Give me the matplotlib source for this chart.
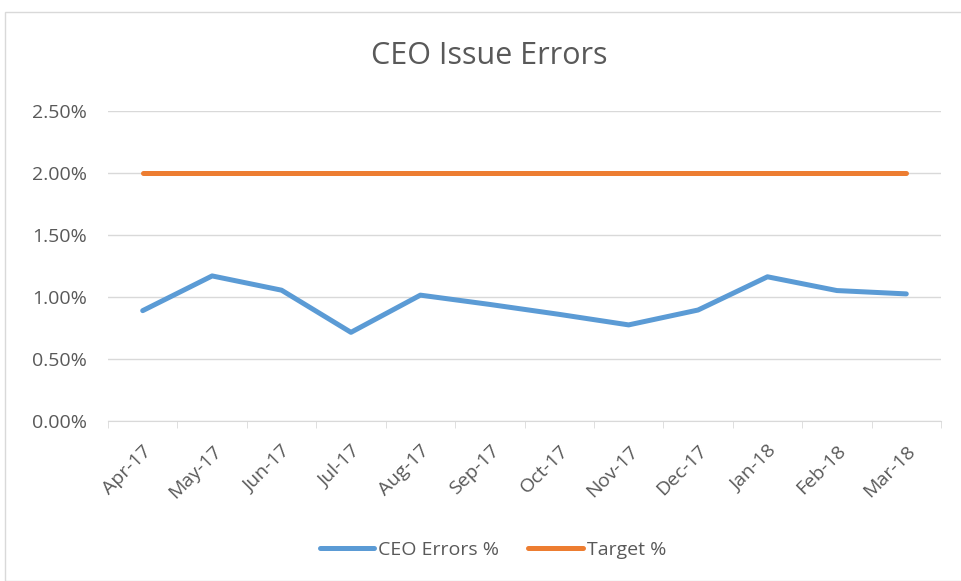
import numpy as np
import matplotlib.pyplot as plt
from matplotlib.patches import Rectangle

months = ['Apr-17', 'May-17', 'Jun-17', 'Jul-17', 'Aug-17', 'Sep-17',
          'Oct-17', 'Nov-17', 'Dec-17', 'Jan-18', 'Feb-18', 'Mar-18']
ceo_errors = [0.89, 1.17, 1.055, 0.715, 1.015, 0.94,
              0.86, 0.775, 0.895, 1.163, 1.052, 1.025]
target = [2.0] * 12
yticks = [0.0, 0.5, 1.0, 1.5, 2.0, 2.5]

plt.rcParams['font.family'] = ['Open Sans', 'DejaVu Sans']
grey = '#595959'

fig = plt.figure(figsize=(9.62, 5.81), dpi=100)
fig.patches.append(Rectangle((5 / 962, 0), 1.0, 1 - 12 / 581, transform=fig.transFigure,
                             fill=False, edgecolor='#d9d9d9', linewidth=1))

ax = fig.add_axes([108 / 962, 1 - 421 / 581, (941 - 108) / 962, (421 - 111) / 581])
x = np.arange(len(months))
ax.plot(x, ceo_errors, color='#5B9BD5', lw=3.6, solid_capstyle='round',
        solid_joinstyle='round', label='CEO Errors %')
ax.plot(x, target, color='#ED7D31', lw=3.6, solid_capstyle='round', label='Target %')

ax.set_xlim(-0.5, len(months) - 0.5)
ax.set_ylim(0, 2.5)
ax.set_yticks(yticks)
ax.set_yticklabels(['%.2f%%' % v for v in yticks])
ax.set_xticks(x)
ax.set_xticklabels(months, rotation=45, ha='right', rotation_mode='anchor')
ax.set_xticks(np.arange(-0.5, len(months)), minor=True)
ax.tick_params(axis='x', which='major', length=0, pad=15)
ax.tick_params(axis='x', which='minor', length=5, color='#d9d9d9')
ax.tick_params(axis='y', length=0, pad=15)
ax.tick_params(labelsize=14, labelcolor=grey)
ax.grid(axis='y', color='#d9d9d9', lw=1)
ax.set_axisbelow(True)
for s in ['top', 'right', 'left']:
    ax.spines[s].set_visible(False)
ax.spines['bottom'].set_color('#d9d9d9')

fig.text(489 / 962, 1 - 56 / 581, 'CEO Issue Errors', ha='center', va='center',
         fontsize=22, color=grey)
fig.legend(loc='center', bbox_to_anchor=(493 / 962, 1 - 550 / 581), ncol=2, frameon=False,
           fontsize=14, labelcolor=grey, handlelength=2.8, columnspacing=1.5,
           handletextpad=0.2)

fig.savefig('out.png', dpi=100, facecolor='white')
